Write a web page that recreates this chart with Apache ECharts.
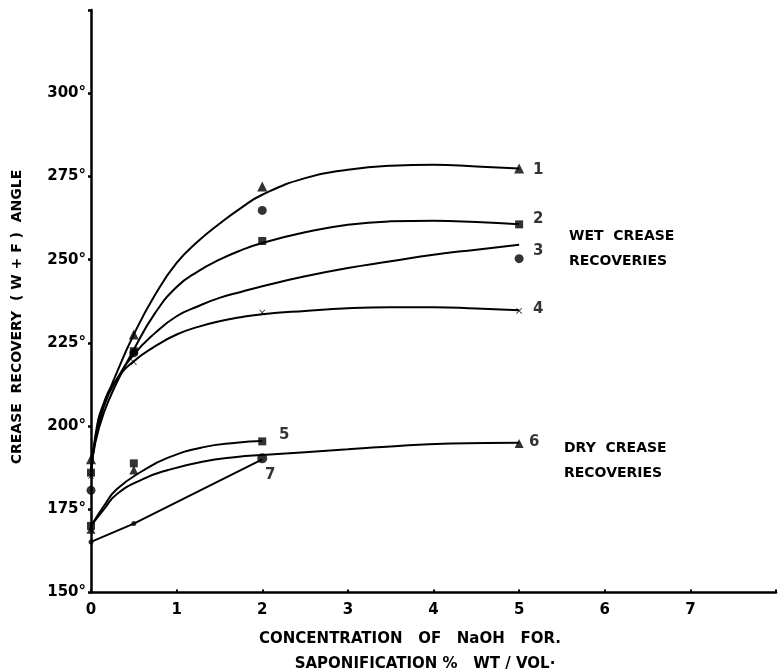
<!DOCTYPE html>
<html>
<head>
<meta charset="utf-8">
<script src="https://cdn.jsdelivr.net/npm/echarts@6/dist/echarts.min.js"></script>
<style>
html,body{margin:0;padding:0;background:#fff;}
#c{width:779px;height:670px;}
</style>
</head>
<body>
<div id="c"></div>
<script>
// ---- data ----
const xTickLabels = ['0','1','2','3','4','5','6','7'];
const yTickLabels = ['150°','175°','200°','225°','250°','275°','300°'];

// fitted (hand-drawn) curves: [x, angle]
const curve1 = [[0,186],[0.05,196],[0.15,206],[0.3,216],[0.5,227.5],[0.75,239.5],[1,249],[1.25,255.5],[1.5,260.8],[1.75,265.5],[2,269.5],[2.5,274.5],[3,277],[3.5,278.2],[4,278.5],[4.5,278],[5,277.4]];
const curve2 = [[0,186],[0.05,195],[0.15,204],[0.3,213],[0.5,223],[0.75,234],[1,241.8],[1.25,246.5],[1.5,250],[1.75,252.8],[2,255],[2.5,258.2],[3,260.5],[3.5,261.5],[4,261.7],[4.5,261.3],[5,260.6]];
const curve3 = [[0,186],[0.05,196],[0.15,206],[0.3,214],[0.5,221.5],[0.75,228],[1,233],[1.25,236],[1.5,238.5],[1.75,240.3],[2,242],[2.5,245],[3,247.5],[3.5,249.5],[4,251.5],[4.5,253],[5,254.5]];
const curve4 = [[0,185],[0.05,197],[0.15,207],[0.3,214],[0.5,219.5],[0.75,224],[1,227.5],[1.25,229.8],[1.5,231.5],[1.75,232.7],[2,233.6],[2.5,234.6],[3,235.4],[3.5,235.7],[4,235.7],[4.5,235.3],[5,234.8]];
const curve5 = [[0,170],[0.15,176],[0.3,181],[0.6,186.5],[0.9,190.5],[1.3,193.6],[1.7,195],[2,195.5]];
const curve6 = [[0,170],[0.15,175],[0.3,179.5],[0.6,184],[0.9,186.8],[1.3,189.3],[1.7,190.7],[2,191.3],[3,193],[3.4,193.7],[4.2,194.8],[5,195]];
const curve7 = [[0,165.2],[0.5,170.7],[2,190]];

// measured points: [x, angle]
const points1 = [[0,190],[0.5,227.5],[2,272],[5,277.4]];
const points2 = [[0,186],[0.5,222.5],[2,255.6],[5,260.6]];
const points3 = [[0,180.7],[0.5,222],[2,264.8],[5,250.3]];
const points4 = [[0,185],[0.5,219.2],[2,234.1],[5,234.6]];
const points5 = [[0,170],[0.5,188.8],[2,195.4]];
const points6 = [[0,169],[0.5,186.8],[5,194.8]];
const points7 = [[0,165.2],[0.5,170.7],[2,190.3]];

const curveNames = ['1','2','3','4','5','6','7'];

// ---- chart ----
const INK = '#000';
const FONT = 'DejaVu Sans';
const xMark = 'path://M0,1L1,0L5,4L9,0L10,1L6,5L10,9L9,10L5,6L1,10L0,9L4,5Z';

const curves = [curve1,curve2,curve3,curve4,curve5,curve6,curve7];
const points = [points1,points2,points3,points4,points5,points6,points7];
const symbols = ['triangle','rect','circle',xMark,'rect','triangle','circle'];
const symSizes = [10,8,9,6,8,9,5];
const labelOffsets = [[19,2],[19,-5],[19,-8],[19,-2],[22,-6],[15,-1],[8,17]];

const series = [];
curves.forEach((c,i)=>{
  series.push({
    type:'line', data:c, smooth: i===6 ? false : 0.5, showSymbol:false,
    lineStyle:{color:INK,width:2}, silent:true, z:2
  });
});
points.forEach((p,i)=>{
  const data = p.map((d,j)=>{
    const item = {value:d};
    if(j===p.length-1){
      item.label = {show:true, formatter:curveNames[i], position:'inside',
        offset:labelOffsets[i], color:INK, fontFamily:FONT, fontWeight:'bold', fontSize:15};
    }
    if(i===6 && j<2){ item.symbolSize = 5; }
    if(i===6 && j===2){ item.symbolSize = 10; }
    return item;
  });
  series.push({
    type:'scatter', data:data, symbol:symbols[i], symbolSize:symSizes[i],
    itemStyle:{color:INK}, z:3, silent:true
  });
});

const chart = echarts.init(document.getElementById('c'));
chart.setOption({
  backgroundColor:'#fff',
  animation:false,
  grid:{left:91, right:2, top:10, bottom:77.5, containLabel:false},
  xAxis:{
    type:'value', min:0, max:8, interval:1,
    axisLine:{show:true, onZero:false, lineStyle:{color:INK,width:2.5}},
    axisTick:{show:true, inside:true, length:3, lineStyle:{color:INK,width:2}},
    splitLine:{show:false},
    axisLabel:{
      color:INK, fontFamily:FONT, fontWeight:'bold', fontSize:15, margin:10,
      formatter:(v)=> xTickLabels[Math.round(v)] !== undefined ? xTickLabels[Math.round(v)] : ''
    }
  },
  yAxis:{
    type:'value', min:150, max:325, interval:25,
    axisLine:{show:true, onZero:false, lineStyle:{color:INK,width:2.5}},
    axisTick:{show:true, inside:false, length:3, lineStyle:{color:INK,width:2.5}},
    splitLine:{show:false},
    axisLabel:{
      color:INK, fontFamily:FONT, fontWeight:'bold', fontSize:15, margin:5,
      formatter:(v)=>{ const k = Math.round((v-150)/25); return yTickLabels[k] !== undefined ? yTickLabels[k] : ''; }
    }
  },
  graphic:[
    {type:'text', x:17, y:317, rotation:Math.PI/2,
      style:{text:'CREASE  RECOVERY  ( W + F )  ANGLE', fill:INK, font:'bold 14px "DejaVu Sans"', textAlign:'center', textVerticalAlign:'middle'}},
    {type:'text', x:410, y:639,
      style:{text:'CONCENTRATION   OF   NaOH   FOR.', fill:INK, font:'bold 15px "DejaVu Sans"', textAlign:'center', textVerticalAlign:'middle'}},
    {type:'text', x:425, y:664,
      style:{text:'SAPONIFICATION %   WT / VOL·', fill:INK, font:'bold 15px "DejaVu Sans"', textAlign:'center', textVerticalAlign:'middle'}},
    {type:'text', x:569, y:236,
      style:{text:'WET  CREASE', fill:INK, font:'bold 14px "DejaVu Sans"', textAlign:'left', textVerticalAlign:'middle'}},
    {type:'text', x:569, y:261,
      style:{text:'RECOVERIES', fill:INK, font:'bold 14px "DejaVu Sans"', textAlign:'left', textVerticalAlign:'middle'}},
    {type:'text', x:564, y:448,
      style:{text:'DRY  CREASE', fill:INK, font:'bold 14px "DejaVu Sans"', textAlign:'left', textVerticalAlign:'middle'}},
    {type:'text', x:564, y:473,
      style:{text:'RECOVERIES', fill:INK, font:'bold 14px "DejaVu Sans"', textAlign:'left', textVerticalAlign:'middle'}}
  ],
  series:series
});
</script>
</body>
</html>
